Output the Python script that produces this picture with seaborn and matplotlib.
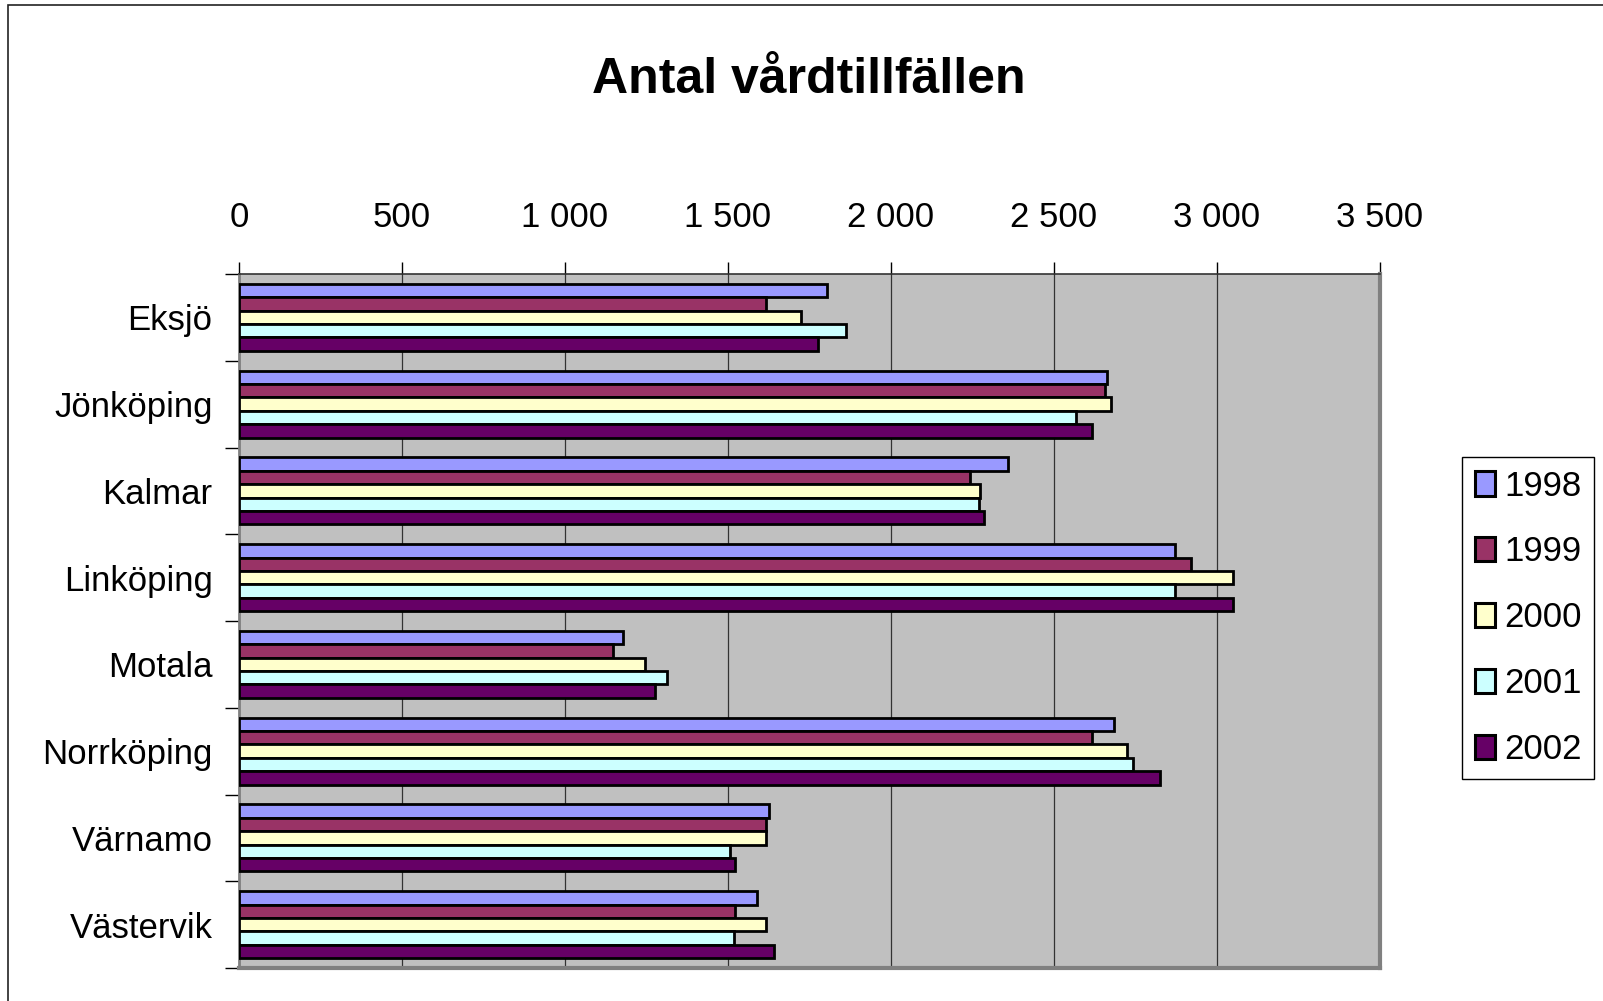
import numpy as np
import pandas as pd
import matplotlib
matplotlib.use("Agg")
import matplotlib.pyplot as plt
from matplotlib.patches import Rectangle
import seaborn as sns

# data
sites = ["Eksjö", "Jönköping", "Kalmar", "Linköping", "Motala", "Norrköping", "Värnamo", "Västervik"]
years = ["1998", "1999", "2000", "2001", "2002"]
v1998 = [1803, 2664, 2360, 2871, 1177, 2685, 1626, 1589]
v1999 = [1616, 2655, 2243, 2920, 1147, 2617, 1618, 1521]
v2000 = [1723, 2675, 2273, 3048, 1244, 2723, 1618, 1618]
v2001 = [1863, 2566, 2270, 2871, 1314, 2742, 1507, 1519]
v2002 = [1775, 2618, 2284, 3050, 1275, 2825, 1521, 1640]
colors = ["#9999FF", "#993366", "#FFFFCC", "#CCFFFF", "#660066"]
xticks = [0, 500, 1000, 1500, 2000, 2500, 3000, 3500]
xticklabels = ["0", "500", "1 000", "1 500", "2 000", "2 500", "3 000", "3 500"]

rows = []
for yr, vals in zip(years, [v1998, v1999, v2000, v2001, v2002]):
    for s, v in zip(sites, vals):
        rows.append({"site": s, "year": yr, "antal": v})
df = pd.DataFrame(rows)

plt.rcParams["font.family"] = ["Liberation Sans", "DejaVu Sans"]

fig = plt.figure(figsize=(16.03, 10.01), dpi=100)
ax = fig.add_axes([239 / 1603, 1 - 968 / 1001, 1141 / 1603, 694 / 1001])

sns.barplot(data=df, x="antal", y="site", hue="year", order=sites, hue_order=years,
            palette=colors, width=0.77, edgecolor="black", linewidth=2.0,
            saturation=1, ax=ax, zorder=3)

ax.set_facecolor("#C0C0C0")
ax.set_xlim(0, 3500)
ax.set_ylim(7.5, -0.5)
ax.set_xlabel("")
ax.set_ylabel("")

# x axis on top
ax.xaxis.tick_top()
ax.set_xticks(xticks)
ax.set_xticklabels(xticklabels, fontsize=25)
ax.tick_params(axis="x", direction="out", length=9, width=1, pad=20, color="black")
ax.grid(axis="x", color="#333333", linewidth=0.9, zorder=0)
ax.set_axisbelow(True)

# category labels, ticks between groups
ax.set_yticks(range(len(sites)))
ax.set_yticklabels(sites, fontsize=25)
ax.set_yticks(np.arange(-0.5, len(sites)), minor=True)
ax.tick_params(axis="y", which="major", length=0, pad=19)
ax.tick_params(axis="y", which="minor", length=10, width=1, color="black")

ax.spines["top"].set_color("#333333")
ax.spines["top"].set_linewidth(1.2)
ax.spines["left"].set_color("#808080")
ax.spines["left"].set_linewidth(2)
ax.spines["right"].set_color("#808080")
ax.spines["right"].set_linewidth(3)
ax.spines["bottom"].set_color("#808080")
ax.spines["bottom"].set_linewidth(3)

handles, labels = ax.get_legend_handles_labels()
ax.get_legend().remove()
leg = fig.legend(handles, labels, loc="upper left",
                 bbox_to_anchor=(1462 / 1603, 1 - 457 / 1001),
                 fontsize=25, frameon=True, fancybox=False, framealpha=1,
                 edgecolor="black", handlelength=0.58, handleheight=0.7,
                 handletextpad=0.28, labelspacing=0.95, borderpad=0.36,
                 borderaxespad=0)
leg.get_frame().set_linewidth(1)
for h in leg.legend_handles:
    h.set_edgecolor("black")
    h.set_linewidth(2.2)

fig.text(0.5045, 1 - 80 / 1001, "Antal vårdtillfällen", fontsize=36,
         fontweight="bold", ha="center", va="center")

# chart area border (left/top visible)
fig.patches.append(Rectangle((8 / 1603, -0.05), 1.1, 1 - 5 / 1001 + 0.05,
                             transform=fig.transFigure, fill=False,
                             edgecolor="#222222", linewidth=1.2))

fig.savefig("out.png", dpi=100)
